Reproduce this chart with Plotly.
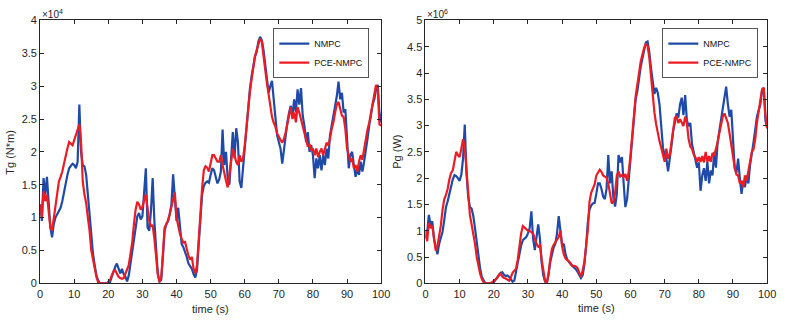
import numpy as np
import plotly.graph_objects as go

# time axis (s), 0.5 s sampling
TIME = np.arange(0, 100.5, 0.5)

# Generator torque Tg (x1e4 N*m)
TG_NMPC = [
    1.20, 0.95, 1.60, 1.35, 1.62, 1.25, 0.85, 0.70, 0.90, 1.00, 1.05, 1.10, 1.15, 1.25, 1.40, 1.55, 1.65, 1.75, 1.78, 1.82,
    1.80, 1.75, 1.85, 2.72, 2.00, 1.80, 1.78, 1.65, 1.35, 1.00, 0.70, 0.45, 0.28, 0.12, 0.05, 0.00, 0.00, 0.00, 0.00, 0.00,
    0.00, 0.02, 0.10, 0.18, 0.25, 0.30, 0.22, 0.15, 0.22, 0.14, 0.10, 0.03, 0.12, 0.30, 0.48, 0.70, 0.92, 1.02, 1.07, 0.97,
    1.02, 1.40, 1.75, 0.85, 0.80, 1.10, 1.60, 0.95, 0.50, 0.15, 0.03, 0.05, 0.40, 0.80, 0.90, 0.95, 1.05, 1.20, 1.66, 1.30,
    0.95, 1.15, 0.80, 0.60, 0.55, 0.48, 0.40, 0.30, 0.25, 0.22, 0.14, 0.09, 0.20, 0.55, 1.05, 1.35, 1.48, 1.53, 1.55, 1.53,
    1.65, 1.75, 1.72, 1.60, 1.52, 1.58, 1.70, 2.34, 1.80, 2.00, 1.60, 1.50, 1.95, 2.30, 1.90, 2.36, 2.15, 1.55, 1.45, 1.75,
    2.10, 2.40, 2.70, 2.95, 3.15, 3.30, 3.45, 3.52, 3.68, 3.75, 3.70, 3.55, 3.35, 3.10, 2.90, 3.00, 3.08, 2.80, 2.45, 2.25,
    2.15, 2.05, 1.82, 2.05, 2.25, 2.45, 2.60, 2.70, 2.55, 2.80, 2.60, 2.95, 2.72, 2.97, 2.55, 2.40, 2.15, 2.30, 2.00, 2.10,
    1.95, 1.60, 1.90, 1.75, 1.95, 1.72, 1.95, 1.80, 2.05, 1.90, 2.25, 2.40, 2.55, 2.70, 2.85, 3.07, 2.80, 2.90, 2.60, 2.65,
    2.25, 1.75, 1.95, 2.00, 1.80, 1.62, 1.75, 1.65, 1.85, 1.70, 1.85, 2.00, 2.20, 2.40, 2.60, 2.72, 2.80, 2.95, 3.02, 2.60,
    2.45,
]
TG_PCE = [
    1.20, 1.00, 1.40, 1.25, 1.35, 1.05, 0.85, 0.80, 1.00, 1.15, 1.35, 1.55, 1.62, 1.70, 1.82, 1.95, 2.05, 2.15, 2.12, 2.10,
    2.18, 2.25, 2.35, 2.42, 2.15, 1.55, 1.35, 1.22, 1.00, 0.80, 0.50, 0.35, 0.22, 0.10, 0.02, 0.00, 0.00, 0.00, 0.00, 0.00,
    0.02, 0.05, 0.12, 0.18, 0.20, 0.15, 0.10, 0.08, 0.07, 0.08, 0.15, 0.22, 0.28, 0.45, 0.62, 0.90, 1.12, 1.24, 1.20, 1.12,
    1.17, 1.26, 1.35, 1.15, 0.95, 0.87, 0.88, 0.68, 0.40, 0.14, 0.02, 0.08, 0.45, 0.85, 0.90, 0.95, 1.05, 1.15, 1.25, 1.38,
    1.00, 0.85, 0.75, 0.68, 0.62, 0.63, 0.50, 0.42, 0.36, 0.40, 0.22, 0.15, 0.28, 0.60, 1.05, 1.45, 1.72, 1.78, 1.76, 1.70,
    1.82, 1.95, 1.95, 1.90, 1.85, 1.85, 1.95, 1.80, 1.66, 1.56, 1.46, 1.66, 1.90, 2.05, 1.95, 1.85, 1.80, 1.95, 1.85, 1.90,
    2.10, 2.40, 2.70, 2.90, 3.10, 3.30, 3.45, 3.55, 3.65, 3.72, 3.68, 3.50, 3.25, 3.05, 2.85, 2.65, 2.53, 2.44, 2.38, 2.28,
    2.22, 2.18, 2.14, 2.20, 2.30, 2.42, 2.55, 2.68, 2.50, 2.60, 2.45, 2.68, 2.60, 2.50, 2.36, 2.30, 2.20, 2.08, 2.12, 2.02,
    2.05, 1.95, 2.05, 1.92, 2.00, 2.05, 1.95, 2.05, 2.14, 2.10, 2.20, 2.35, 2.45, 2.60, 2.72, 2.76, 2.65, 2.55, 2.53, 2.35,
    2.05, 1.95, 1.85, 1.90, 1.75, 1.80, 1.70, 1.85, 1.95, 1.88, 2.05, 2.15, 2.34, 2.44, 2.58, 2.72, 2.88, 3.02, 2.95, 2.42,
    2.40,
]

# Generator power Pg (x1e6 W)
PG_NMPC = [
    0.85, 0.97, 1.30, 1.10, 1.18, 0.85, 0.70, 0.55, 0.75, 0.88, 0.98, 1.20, 1.45, 1.56, 1.72, 1.86, 1.98, 2.06, 2.04, 2.00,
    1.95, 2.07, 2.37, 3.02, 2.10, 1.65, 1.45, 1.42, 1.28, 1.05, 0.75, 0.50, 0.28, 0.12, 0.05, 0.00, 0.00, 0.00, 0.00, 0.00,
    0.02, 0.06, 0.10, 0.15, 0.20, 0.21, 0.16, 0.14, 0.15, 0.12, 0.06, 0.03, 0.05, 0.22, 0.40, 0.58, 0.72, 0.82, 0.86, 0.88,
    0.95, 1.05, 1.37, 0.85, 0.63, 0.85, 1.12, 0.85, 0.40, 0.15, 0.03, 0.00, 0.15, 0.40, 0.58, 0.68, 0.75, 0.95, 1.28, 0.95,
    0.72, 0.75, 0.55, 0.45, 0.40, 0.36, 0.33, 0.30, 0.27, 0.22, 0.17, 0.10, 0.15, 0.35, 0.70, 1.15, 1.40, 1.48, 1.52, 1.53,
    1.70, 1.90, 1.90, 1.80, 1.65, 1.60, 1.80, 2.44, 1.90, 2.13, 1.62, 1.46, 1.70, 2.44, 2.30, 2.40, 1.90, 1.45, 1.60, 2.00,
    2.40, 2.75, 3.20, 3.50, 3.65, 3.92, 4.12, 4.28, 4.45, 4.58, 4.60, 4.40, 4.10, 3.88, 3.60, 3.72, 3.62, 3.40, 3.00, 2.58,
    2.44, 2.37, 2.13, 2.35, 2.62, 2.90, 3.05, 3.23, 3.15, 3.40, 3.53, 3.20, 3.58, 3.10, 2.99, 3.05, 2.65, 2.50, 2.40, 2.20,
    2.30, 1.76, 2.05, 2.19, 1.95, 2.31, 1.90, 2.15, 2.05, 2.50, 2.20, 2.68, 2.90, 3.11, 3.29, 3.50, 3.74, 3.41, 3.17, 3.30,
    2.68, 2.19, 2.10, 2.37, 2.00, 1.70, 1.95, 1.83, 2.05, 1.90, 2.25, 2.44, 2.68, 2.92, 3.17, 3.29, 3.40, 3.66, 3.72, 3.10,
    2.95,
]
PG_PCE = [
    1.00, 0.80, 1.15, 1.05, 1.09, 0.80, 0.62, 0.70, 0.90, 1.10, 1.40, 1.60, 1.68, 1.80, 1.98, 2.10, 2.15, 2.31, 2.50, 2.44,
    2.40, 2.56, 2.74, 2.60, 2.20, 1.65, 1.30, 1.12, 0.95, 0.75, 0.50, 0.30, 0.18, 0.08, 0.02, 0.00, 0.00, 0.00, 0.00, 0.02,
    0.05, 0.08, 0.10, 0.16, 0.18, 0.13, 0.10, 0.09, 0.07, 0.05, 0.12, 0.20, 0.24, 0.28, 0.45, 0.72, 0.95, 1.09, 1.05, 1.03,
    1.00, 1.00, 0.97, 0.95, 0.85, 0.75, 0.70, 0.72, 0.45, 0.20, 0.05, 0.00, 0.18, 0.45, 0.65, 0.73, 0.78, 0.82, 0.88, 1.00,
    0.70, 0.55, 0.47, 0.44, 0.42, 0.38, 0.33, 0.33, 0.32, 0.29, 0.22, 0.12, 0.25, 0.40, 0.70, 1.00, 1.55, 1.72, 1.80, 1.88,
    2.05, 2.12, 2.16, 2.12, 2.05, 2.03, 2.01, 1.90, 1.70, 1.52, 1.55, 1.72, 2.05, 2.13, 2.03, 2.06, 2.02, 2.08, 1.95, 2.13,
    2.44, 2.85, 3.25, 3.55, 3.78, 4.05, 4.22, 4.35, 4.48, 4.55, 4.52, 4.30, 3.92, 3.55, 3.25, 3.03, 2.84, 2.70, 2.58, 2.44,
    2.31, 2.56, 2.37, 2.45, 2.68, 2.95, 3.15, 3.17, 3.05, 3.12, 3.05, 2.99, 3.17, 3.05, 2.75, 2.60, 2.56, 2.45, 2.40, 2.31,
    2.40, 2.31, 2.42, 2.30, 2.50, 2.31, 2.42, 2.31, 2.48, 2.42, 2.56, 2.68, 2.86, 3.05, 3.17, 3.23, 3.15, 3.05, 2.85, 2.60,
    2.40, 2.20, 2.07, 2.05, 1.90, 1.95, 1.83, 2.05, 1.95, 2.13, 2.25, 2.50, 2.55, 2.74, 3.05, 3.29, 3.50, 3.69, 3.72, 3.20,
    2.95,
]

SERIES_NAMES = ["NMPC", "PCE-NMPC"]
X_TICKS = [0, 10, 20, 30, 40, 50, 60, 70, 80, 90, 100]
Y1_TICKS = [0, 0.5, 1, 1.5, 2, 2.5, 3, 3.5, 4]
Y2_TICKS = [0, 0.5, 1, 1.5, 2, 2.5, 3, 3.5, 4, 4.5, 5]

BLUE = "#1f4aa8"
RED = "#ec1c24"
AX = "#262626"
FONT = "Liberation Sans, Arial, sans-serif"

W, H = 787, 323
fig = go.Figure()

LW = 2.2
fig.add_trace(go.Scatter(x=TIME, y=TG_NMPC, name=SERIES_NAMES[0], mode="lines",
                         line=dict(color=BLUE, width=LW), xaxis="x", yaxis="y", legend="legend"))
fig.add_trace(go.Scatter(x=TIME, y=TG_PCE, name=SERIES_NAMES[1], mode="lines",
                         line=dict(color=RED, width=LW), xaxis="x", yaxis="y", legend="legend"))
fig.add_trace(go.Scatter(x=TIME, y=PG_NMPC, name=SERIES_NAMES[0], mode="lines",
                         line=dict(color=BLUE, width=LW), xaxis="x2", yaxis="y2", legend="legend2"))
fig.add_trace(go.Scatter(x=TIME, y=PG_PCE, name=SERIES_NAMES[1], mode="lines",
                         line=dict(color=RED, width=LW), xaxis="x2", yaxis="y2", legend="legend2"))

ydom = [35 / H, 308 / H]
x1dom = [37.7 / W, 384 / W]
x2dom = [429 / W, 776 / W]

axis_common = dict(showline=True, linecolor=AX, linewidth=1, mirror="ticks", ticks="inside",
                   ticklen=4, tickcolor=AX, showgrid=False, zeroline=False,
                   tickfont=dict(family=FONT, size=11, color=AX))

leg_common = dict(bgcolor="white", bordercolor="#555555", borderwidth=1,
                  font=dict(family=FONT, size=9, color="#111111"),
                  tracegroupgap=0, itemwidth=30, xanchor="right", yanchor="top")

fig.update_layout(
    width=W, height=H,
    margin=dict(l=0, r=0, t=0, b=0),
    paper_bgcolor="white", plot_bgcolor="white",
    font=dict(family=FONT, size=11, color=AX),
    xaxis=dict(domain=x1dom, range=[0, 100], tickvals=X_TICKS, anchor="y", **axis_common),
    yaxis=dict(domain=ydom, range=[0, 4], tickvals=Y1_TICKS, anchor="x", **axis_common),
    xaxis2=dict(domain=x2dom, range=[0, 100], tickvals=X_TICKS, anchor="y2", **axis_common),
    yaxis2=dict(domain=ydom, range=[0, 5], tickvals=Y2_TICKS, anchor="x2", **axis_common),
    legend=dict(x=372 / W, y=(H - 23) / H, **leg_common),
    legend2=dict(x=767 / W, y=(H - 23) / H, **leg_common),
    showlegend=True,
)

ann_font = dict(family=FONT, size=11, color=AX)
fig.add_annotation(text="×10<sup>4</sup>", x=x1dom[0], y=1.0, xref="paper", yref="paper",
                   xanchor="left", yanchor="top", showarrow=False, font=dict(family=FONT, size=10, color=AX))
fig.add_annotation(text="×10<sup>6</sup>", x=x2dom[0], y=1.0, xref="paper", yref="paper",
                   xanchor="left", yanchor="top", showarrow=False, font=dict(family=FONT, size=10, color=AX))
fig.add_annotation(text="time (s)", x=(x1dom[0] + x1dom[1]) / 2, y=(H - 315) / H, xref="paper", yref="paper",
                   xanchor="center", yanchor="middle", showarrow=False, font=ann_font)
fig.add_annotation(text="time (s)", x=(x2dom[0] + x2dom[1]) / 2, y=(H - 314) / H, xref="paper", yref="paper",
                   xanchor="center", yanchor="middle", showarrow=False, font=ann_font)
fig.add_annotation(text="Tg (N*m)", x=7 / W, y=(ydom[0] + ydom[1]) / 2, xref="paper", yref="paper",
                   xanchor="center", yanchor="middle", textangle=-90, showarrow=False, font=ann_font)
fig.add_annotation(text="Pg (W)", x=400 / W, y=(ydom[0] + ydom[1]) / 2, xref="paper", yref="paper",
                   xanchor="center", yanchor="middle", textangle=-90, showarrow=False, font=ann_font)

fig.write_html("out.html")
